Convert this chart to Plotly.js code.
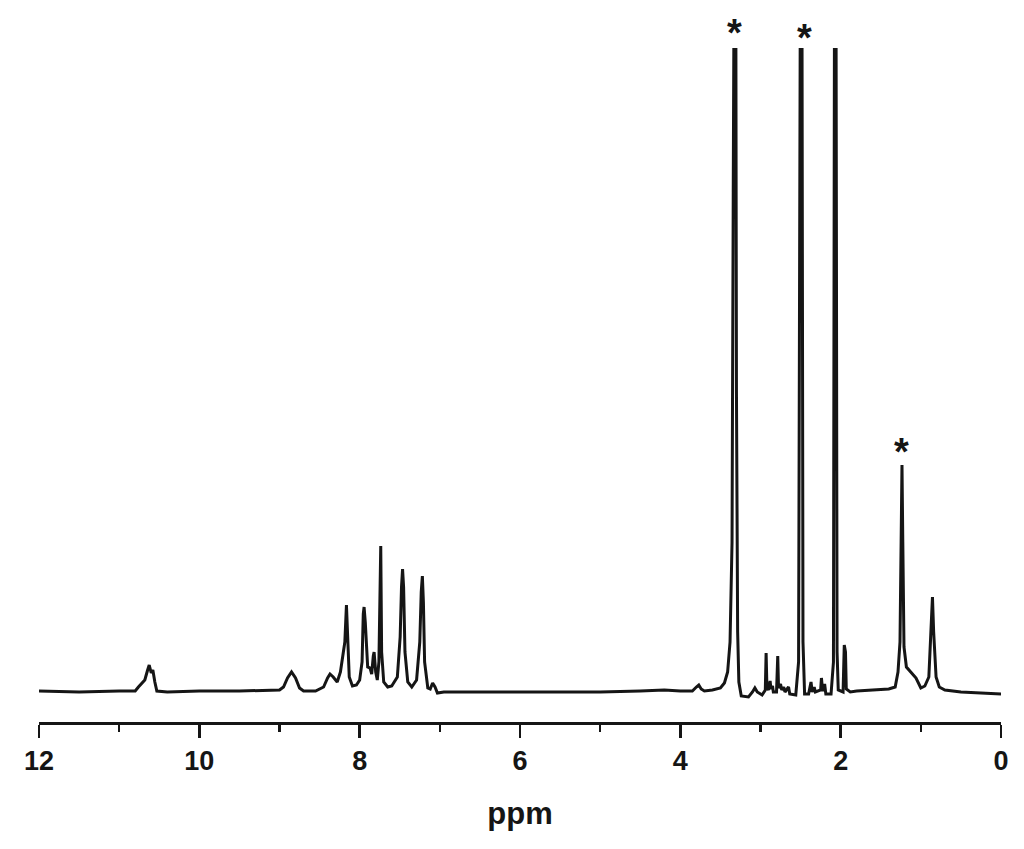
<!DOCTYPE html>
<html>
<head>
<meta charset="utf-8">
<script src="https://cdn.plot.ly/plotly-3.0.1.min.js"></script>
<style>
  html, body { margin: 0; padding: 0; background: #fff; }
  #chart { width: 1024px; height: 849px; }
</style>
</head>
<body>
<div id="chart"></div>
<script>
var ppm = [
  12.0, 11.5, 11.0, 10.80, 10.76, 10.72, 10.68, 10.645, 10.625, 10.60, 10.58, 10.555, 10.53, 10.4,
  10.0, 9.5, 9.0, 8.95, 8.90, 8.85, 8.80, 8.75, 8.70, 8.55,
  8.45, 8.40, 8.37, 8.33, 8.28, 8.24, 8.21, 8.185, 8.165, 8.15, 8.13, 8.09, 8.04, 8.00,
  7.97, 7.955, 7.945, 7.93, 7.90, 7.87, 7.85, 7.83, 7.82, 7.80, 7.78, 7.76,
  7.748, 7.737, 7.726, 7.70, 7.65, 7.60, 7.53, 7.495, 7.478, 7.465, 7.452, 7.435, 7.40, 7.35,
  7.29, 7.25, 7.232, 7.218, 7.205, 7.19, 7.15, 7.12, 7.09, 7.06, 7.03, 6.95,
  6.5, 6.0, 5.5, 5.0, 4.5, 4.2, 4.0, 3.85, 3.80, 3.77, 3.74, 3.70, 3.60, 3.50,
  3.45, 3.41, 3.38, 3.355, 3.34, 3.325, 3.31, 3.30, 3.285, 3.27, 3.24, 3.15,
  3.10, 3.07, 3.04, 2.98, 2.94, 2.93, 2.92, 2.90, 2.88, 2.87, 2.85, 2.84, 2.80,
  2.785, 2.775, 2.75, 2.735, 2.71, 2.695, 2.65, 2.635, 2.56, 2.525,
  2.50, 2.485, 2.47, 2.45, 2.40, 2.37, 2.355, 2.33, 2.315, 2.25, 2.24, 2.225, 2.20, 2.185,
  2.12, 2.09, 2.075, 2.06, 2.045, 2.03, 1.97, 1.955, 1.94, 1.93, 1.88,
  1.8, 1.6, 1.5, 1.4, 1.32, 1.285, 1.26, 1.245, 1.235, 1.225, 1.21, 1.18, 1.12, 1.06,
  1.00, 0.95, 0.90, 0.87, 0.855, 0.84, 0.81, 0.77, 0.7, 0.5, 0.3, 0.0
];

// signal intensity at each point (arbitrary units, baseline = 0)
var intensity = [
  0.01, 0.00, 0.01, 0.01, 0.05, 0.09, 0.12, 0.22, 0.27, 0.19, 0.22, 0.10, 0.01, 0.00,
  0.01, 0.01, 0.02, 0.05, 0.14, 0.20, 0.14, 0.04, 0.01, 0.01,
  0.05, 0.14, 0.18, 0.15, 0.10, 0.20, 0.36, 0.50, 0.87, 0.60, 0.15, 0.06, 0.07, 0.12,
  0.30, 0.78, 0.85, 0.70, 0.25, 0.24, 0.18, 0.36, 0.40, 0.20, 0.12, 0.30,
  0.90, 1.46, 0.40, 0.10, 0.05, 0.06, 0.15, 0.55, 1.05, 1.23, 1.05, 0.40, 0.10, 0.05,
  0.12, 0.50, 1.00, 1.16, 0.90, 0.30, 0.04, 0.03, 0.09, 0.05, -0.01, 0.00,
  0.00, 0.00, 0.00, 0.00, 0.01, 0.02, 0.01, 0.01, 0.05, 0.07, 0.03, 0.01, 0.02, 0.04,
  0.09, 0.20, 0.50, 1.50, 5.00, 8.00, 8.00, 3.00, 0.60, 0.10, -0.04, -0.05,
  0.00, 0.04, 0.00, -0.03, 0.02, 0.39, 0.05, 0.02, 0.11, 0.03, 0.06, 0.00, 0.00,
  0.36, 0.04, 0.08, 0.02, 0.05, 0.00, 0.05, -0.02, -0.03, 0.30,
  8.00, 8.00, 0.50, -0.02, -0.02, 0.10, 0.00, 0.05, 0.00, 0.02, 0.14, 0.01, 0.08, -0.02,
  -0.02, 0.30, 8.00, 8.00, 0.40, 0.02, 0.00, 0.47, 0.40, 0.03, 0.00,
  0.01, 0.02, 0.03, 0.03, 0.05, 0.20, 0.50, 1.50, 2.27, 1.50, 0.45, 0.25, 0.19, 0.14,
  0.04, 0.06, 0.15, 0.60, 0.95, 0.60, 0.15, 0.05, 0.02, 0.00, -0.01, -0.02
];

// solvent / impurity peaks marked with an asterisk
var starPpm = [3.33, 2.45, 1.24];
var starY = [1.022, 1.015, 0.40];

var trace = {
  x: ppm,
  y: intensity,
  type: 'scatter',
  mode: 'lines',
  line: { color: '#151515', width: 3 },
  hoverinfo: 'x+y'
};

var stars = starPpm.map(function (p, i) {
  return {
    x: p, xref: 'x',
    y: starY[i], yref: 'paper',
    text: '*',
    showarrow: false,
    xanchor: 'center', yanchor: 'middle',
    font: { family: 'Liberation Sans, Arial, sans-serif', size: 38, color: '#151515', weight: 'bold' }
  };
});

var layout = {
  width: 1024,
  height: 849,
  margin: { l: 39, r: 23, t: 48, b: 127 },
  paper_bgcolor: '#ffffff',
  plot_bgcolor: '#ffffff',
  showlegend: false,
  font: { family: 'Liberation Sans, Arial, sans-serif', color: '#151515' },
  xaxis: {
    range: [12, 0],
    tickvals: [12, 10, 8, 6, 4, 2, 0],
    ticktext: ['<b>12</b>', '<b>10</b>', '<b>8</b>', '<b>6</b>', '<b>4</b>', '<b>2</b>', '<b>0</b>'],
    ticks: 'outside',
    ticklen: 13,
    tickwidth: 2.5,
    tickcolor: '#151515',
    tickfont: { size: 27, color: '#151515' },
    minor: { dtick: 1, ticks: 'outside', ticklen: 7, tickwidth: 2.5, tickcolor: '#151515', showgrid: false },
    showline: true,
    linecolor: '#151515',
    linewidth: 2.5,
    showgrid: false,
    zeroline: false,
    title: { text: '<b>ppm</b>', font: { size: 31, color: '#151515' }, standoff: 28 }
  },
  yaxis: {
    range: [-0.30, 6.44],
    visible: false,
    showgrid: false,
    zeroline: false
  },
  annotations: stars
};

Plotly.newPlot('chart', [trace], layout, { displayModeBar: false, staticPlot: true });
</script>
</body>
</html>
